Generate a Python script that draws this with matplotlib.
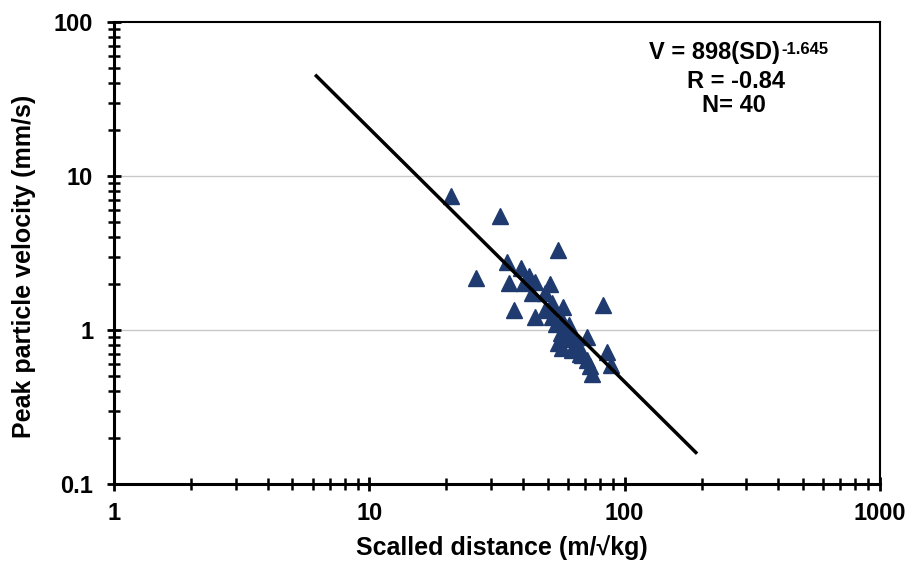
import matplotlib
matplotlib.use("Agg")
import matplotlib.pyplot as plt
import numpy as np
from matplotlib.ticker import LogLocator, NullFormatter, FixedLocator, FixedFormatter

plt.rcParams['font.family'] = ['Liberation Sans', 'DejaVu Sans']

# Scaled distance (m/sqrt(kg)) and PPV (mm/s)
sd = [20.9, 32.4, 54.7, 26.1, 34.6, 39.4, 35.1, 42.1, 44.7, 40.2,
      51.2, 43.3, 48.9, 36.7, 44.7, 52.0, 57.3, 82.2, 48.9, 52.0,
      56.9, 58.6, 56.3, 62.1, 71.2, 55.0, 56.9, 62.1, 66.4, 68.3,
      71.2, 73.0, 74.4, 85.0, 88.6, 64.2, 59.7, 60.5, 67.0, 54.0]
ppv = [7.4, 5.52, 3.31, 2.17, 2.78, 2.51, 2.03, 2.24, 2.06, 2.01,
       1.99, 1.73, 1.73, 1.35, 1.22, 1.49, 1.40, 1.45, 1.35, 1.22,
       1.16, 1.05, 0.95, 0.95, 0.905, 0.82, 0.76, 0.74, 0.78, 0.69,
       0.64, 0.58, 0.52, 0.72, 0.59, 0.82, 0.87, 1.08, 0.70, 1.10]

coef_k = 898
coef_b = -1.645
fit_range = [6.2, 190]

W, H = 909, 563
fig = plt.figure(figsize=(W/100, H/100), dpi=100)
L, R, T, B = 114, 880, 22, 484
ax = fig.add_axes([L/W, 1-B/H, (R-L)/W, (B-T)/H])

xf = np.logspace(np.log10(fit_range[0]), np.log10(fit_range[1]), 50)
ax.plot(xf, coef_k * xf**coef_b, color='black', lw=2.5, zorder=3)
ax.plot(sd, ppv, linestyle='none', marker='^', markersize=11,
        color='#1F3A6E', markeredgecolor='#1F3A6E', zorder=2)

ax.set_xscale('log')
ax.set_yscale('log')
ax.set_xlim(1, 1000)
ax.set_ylim(0.1, 100)

ax.xaxis.set_major_locator(FixedLocator([1, 10, 100, 1000]))
ax.xaxis.set_major_formatter(FixedFormatter(['1', '10', '100', '1000']))
ax.yaxis.set_major_locator(FixedLocator([0.1, 1, 10, 100]))
ax.yaxis.set_major_formatter(FixedFormatter(['0.1', '1', '10', '100']))
ax.xaxis.set_minor_locator(LogLocator(base=10, subs=np.arange(2, 10)))
ax.yaxis.set_minor_locator(LogLocator(base=10, subs=np.arange(2, 10)))
ax.xaxis.set_minor_formatter(NullFormatter())
ax.yaxis.set_minor_formatter(NullFormatter())

ax.tick_params(which='major', direction='inout', length=10, width=2,
               labelsize=17)
ax.tick_params(axis='x', which='major', pad=8)
ax.tick_params(axis='y', which='major', pad=10)
ax.tick_params(which='minor', direction='inout', length=8, width=1.8)
for lab in ax.get_xticklabels() + ax.get_yticklabels():
    lab.set_fontweight('bold')

for s in ['left', 'bottom']:
    ax.spines[s].set_linewidth(2.2)
for s in ['top', 'right']:
    ax.spines[s].set_linewidth(1.5)

for yv in [1, 10]:
    ax.axhline(yv, color='#C8C8C8', lw=1, zorder=0)

fig.text(502/W, 1-548/H, 'Scalled distance (m/\u221akg)', fontsize=18,
         fontweight='bold', ha='center', va='center')
fig.text(24/W, 1-266/H, 'Peak particle velocity (mm/s)', fontsize=18,
         fontweight='bold', ha='center', va='center', rotation=90)

# annotation
main = fig.text(649/W, 1-53/H, 'V = 898(SD)', fontsize=17, fontweight='bold',
                ha='left', va='center')
fig.canvas.draw()
bb = main.get_window_extent()
fig.text(bb.x1/W + 1/W, 1-49/H, '-1.645', fontsize=12, fontweight='bold',
         ha='left', va='center')
fig.text(736/W, 1-81/H, 'R = -0.84', fontsize=17, fontweight='bold',
         ha='center', va='center')
fig.text(734/W, 1-106/H, 'N= 40', fontsize=17, fontweight='bold',
         ha='center', va='center')

fig.savefig('out.png', dpi=100)
